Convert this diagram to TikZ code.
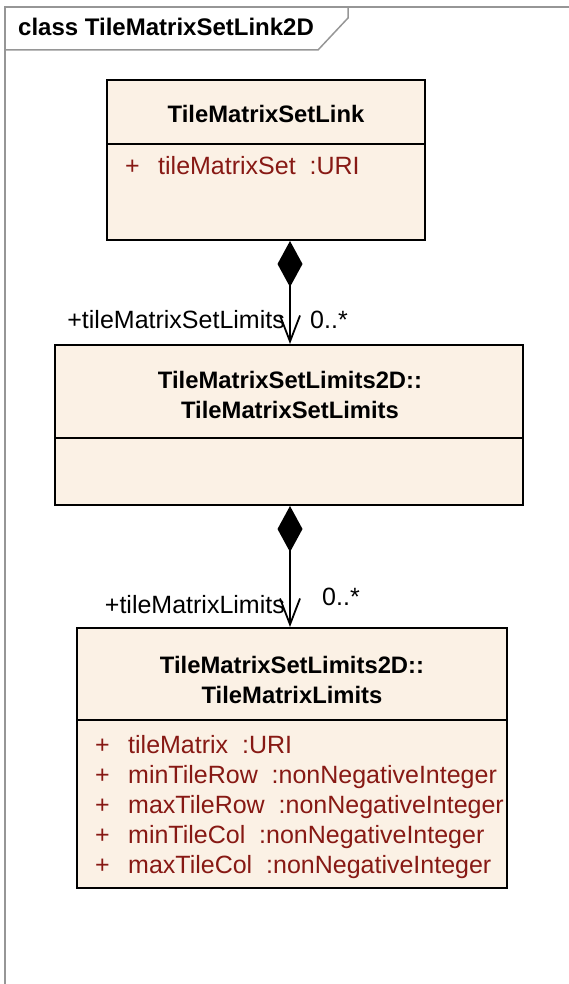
\documentclass[tikz,border=0pt]{standalone}
\usepackage{fontspec}
\setmainfont{Liberation Sans}
\usetikzlibrary{arrows.meta}

\definecolor{umlfill}{RGB}{251,241,229}
\definecolor{attrred}{RGB}{135,25,20}
\definecolor{framegray}{RGB}{150,150,150}

\tikzset{
  classbox/.style={draw=black, fill=umlfill, line width=2pt, inner sep=0pt},
  classname/.style={font=\fontsize{23.8}{30}\selectfont\bfseries, align=center, inner sep=0pt},
  attr/.style={font=\fontsize{25}{30}\selectfont, text=attrred, inner sep=0pt, anchor=base west},
  role/.style={font=\fontsize{25}{30}\selectfont, inner sep=0pt},
  composition/.style={line width=1.8pt, {Diamond[length=46pt,width=25pt]}-{Straight Barb[length=26pt,width=20pt]}},
}

\begin{document}
\begin{tikzpicture}[x=1pt,y=-1pt]

      \useasboundingbox (0,0) rectangle (569,984);

      \draw[framegray, line width=1.5pt] (5,984) -- (5,7) -- (569,7);
      \draw[framegray, line width=1.5pt] (5,50) -- (318,50) -- (348,18) -- (348,7);
      \node[anchor=base west, inner sep=0pt, font=\fontsize{24}{30}\selectfont\bfseries] (frametitle) at (18,36) {class TileMatrixSetLink2D};


      \node[classbox, minimum width=318pt, minimum height=160pt] (link) at (266,160) {};
      \draw[line width=2pt] (link.west |- 0,144) -- (link.east |- 0,144);
      \node[classname, anchor=base] (linkname) at (266,123) {TileMatrixSetLink};
      \node[attr] (linkplus) at (125,175) {+};
      \node[attr] (linkset) at (158,175) {tileMatrixSet\ \ :URI};


      \node[classbox, minimum width=468pt, minimum height=160pt] (setlimits) at (289,425) {};
      \draw[line width=2pt] (setlimits.west |- 0,438) -- (setlimits.east |- 0,438);
      \node[classname] (setlimitsname) at (290,394.5) {TileMatrixSetLimits2D::\\TileMatrixSetLimits};


      \node[classbox, minimum width=430pt, minimum height=260pt] (limits) at (292,758) {};
      \draw[line width=2pt] (limits.west |- 0,720) -- (limits.east |- 0,720);
      \node[classname] (limitsname) at (292,679.5) {TileMatrixSetLimits2D::\\TileMatrixLimits};

      \node[attr] (plusa) at (95,753) {+};
      \node[attr] (attra) at (128,753) {tileMatrix\ \ :URI};

      \node[attr] (plusb) at (95,783) {+};
      \node[attr] (attrb) at (128,783) {minTileRow\ \ :nonNegativeInteger};

      \node[attr] (plusc) at (95,813) {+};
      \node[attr] (attrc) at (128,813) {maxTileRow\ \ :nonNegativeInteger};

      \node[attr] (plusd) at (95,843) {+};
      \node[attr] (attrd) at (128,843) {minTileCol\ \ :nonNegativeInteger};

      \node[attr] (pluse) at (95,873) {+};
      \node[attr] (attre) at (128,873) {maxTileCol\ \ :nonNegativeInteger};


      \draw[composition] (link.south -| 290,0) -- (setlimits.north -| 290,0);
      \node[role, anchor=base east] (setrole) at (285,328) {+tileMatrixSetLimits};
      \node[role, anchor=base west] (setmult) at (310,328) {0..*};

      \draw[composition] (setlimits.south -| 290,0) -- (limits.north -| 290,0);
      \node[role, anchor=base east] (limitsrole) at (285,613) {+tileMatrixLimits};
      \node[role, anchor=base west] (limitsmult) at (322,605) {0..*};

\end{tikzpicture}
\end{document}
